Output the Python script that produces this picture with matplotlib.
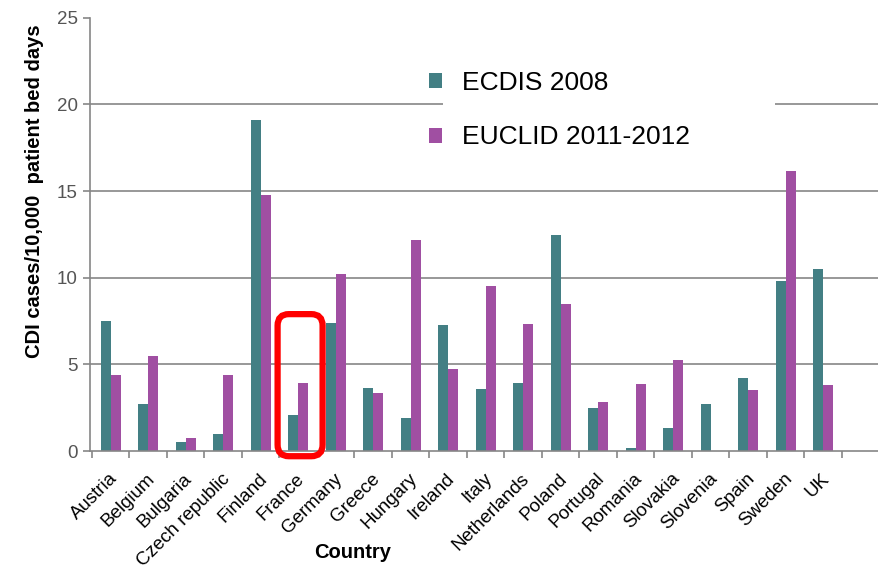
import matplotlib.pyplot as plt
import numpy as np
from matplotlib.patches import FancyBboxPatch, Rectangle

plt.rcParams['font.family'] = ['Liberation Sans', 'DejaVu Sans']

countries = ['Austria', 'Belgium', 'Bulgaria', 'Czech republic', 'Finland', 'France',
             'Germany', 'Greece', 'Hungary', 'Ireland', 'Italy', 'Netherlands', 'Poland',
             'Portugal', 'Romania', 'Slovakia', 'Slovenia', 'Spain', 'Sweden', 'UK']
ecdis_2008 = [7.5, 2.7, 0.5, 1.0, 19.1, 2.1, 7.4, 3.65, 1.9, 7.3,
              3.6, 3.9, 12.45, 2.5, 0.2, 1.3, 2.7, 4.2, 9.8, 10.5]
euclid_2011 = [4.4, 5.5, 0.75, 4.4, 14.8, 3.9, 10.2, 3.35, 12.2, 4.75,
               9.5, 7.35, 8.5, 2.8, 3.85, 5.25, 0.0, 3.5, 16.15, 3.8]

teal = '#437f84'
purple = '#a04fa2'
gray = '#868686'

fig = plt.figure(figsize=(8.79, 5.76), dpi=100)
ax = fig.add_axes([0.1024, 0.217, 0.8976, 0.752])

x = np.arange(len(countries))
w = 0.267
ax.bar(x - w / 2, ecdis_2008, w, color=teal, label='ECDIS 2008', zorder=2)
ax.bar(x + w / 2, euclid_2011, w, color=purple, label='EUCLID 2011-2012', zorder=2)

ax.set_xlim(-0.553, 20.49)
ax.set_ylim(0, 25)

# gridlines (none at the top)
for g in [5, 10, 15, 20]:
    ax.axhline(g, color=gray, lw=1.2, zorder=1)

ax.set_yticks([0, 5, 10, 15, 20, 25])
ax.tick_params(axis='y', labelsize=13.5, colors='#555555', length=5, width=1.2, color=gray, pad=4)

# category ticks at boundaries, labels at centres
ax.set_xticks(np.arange(len(countries) + 1) - 0.5)
ax.set_xticklabels([])
ax.tick_params(axis='x', length=5, width=1.2, color=gray)
for i, c in enumerate(countries):
    ax.text(i - 0.06, -1.1, c, rotation=45, ha='right', va='top',
            rotation_mode='anchor', fontsize=13.5)

for s in ['top', 'right']:
    ax.spines[s].set_visible(False)
for s in ['left', 'bottom']:
    ax.spines[s].set_color(gray)
    ax.spines[s].set_linewidth(1.2)

ax.set_ylabel('CDI cases/10,000  patient bed days', fontsize=14.5, fontweight='bold')
ax.yaxis.set_label_coords(-0.058, 0.60)
fig.text(0.4016, 0.04, 'Country', fontsize=14.5, fontweight='bold', ha='center', va='center')

# white patch behind the legend hides the gridline
ax.add_patch(Rectangle((0.447, 0.76), 0.421, 0.08, transform=ax.transAxes,
                       fc='white', ec='none', zorder=1.5))
leg = ax.legend(loc='upper left', bbox_to_anchor=(0.4297, 0.877), frameon=False, fontsize=19,
                handlelength=0.5, handleheight=0.5, handletextpad=0.75, labelspacing=1.15,
                borderpad=0, borderaxespad=0)

# red highlight box around France
box = FancyBboxPatch((4.45, -0.3), 1.2, 8.2, boxstyle='round,pad=0,rounding_size=0.3',
                     mutation_aspect=2.2, fill=False, ec='#ff0000', lw=4.5,
                     clip_on=False, zorder=4)
ax.add_patch(box)

fig.savefig('out.png', dpi=100)
